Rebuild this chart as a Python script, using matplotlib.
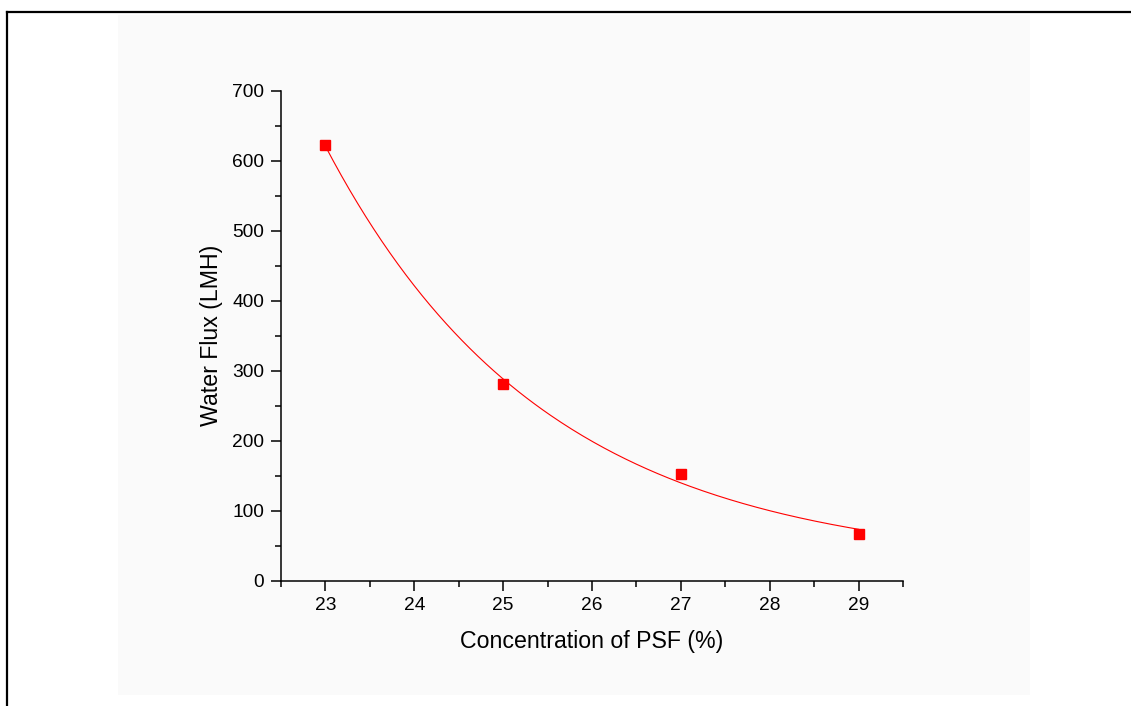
import numpy as np
import matplotlib
matplotlib.use('Agg')
from matplotlib import pyplot as plt
from matplotlib.patches import Rectangle
from matplotlib.lines import Line2D
from matplotlib.ticker import MultipleLocator

# measured data
conc = [23, 25, 27, 29]
flux = [622, 281, 152, 67]

plt.rcParams['font.family'] = ['Liberation Sans', 'DejaVu Sans']

fig = plt.figure(figsize=(11.31, 7.06), dpi=100)

# faint grey page behind the plot and the black frame at left/top
fig.patches.append(Rectangle((118 / 1131, 1 - 695 / 706), (1030 - 118) / 1131, (695 - 15) / 706,
                             transform=fig.transFigure, facecolor='#fafafa', edgecolor='none', zorder=-5))
fig.lines.append(Line2D([7 / 1131, 7 / 1131], [0, 1 - 12 / 706], transform=fig.transFigure,
                        color='black', linewidth=1.6, zorder=-5))
fig.lines.append(Line2D([7 / 1131, 1], [1 - 12 / 706, 1 - 12 / 706], transform=fig.transFigure,
                        color='black', linewidth=1.6, zorder=-5))

ax = fig.add_axes([281 / 1131, 1 - 580.7 / 706, (903 - 281) / 1131, (580.7 - 90.7) / 706])
ax.patch.set_alpha(0)

# least squares fit of y = y0 + A*exp(-(x-23)/t)
x = np.array(conc, dtype=float)
y = np.array(flux, dtype=float)
best = None
for t in np.linspace(0.5, 20, 4000):
    M = np.column_stack([np.ones_like(x), np.exp(-(x - x[0]) / t)])
    coef, *_ = np.linalg.lstsq(M, y, rcond=None)
    err = np.sum((M @ coef - y) ** 2)
    if best is None or err < best[0]:
        best = (err, t, coef)
_, t, (y0, A) = best
xf = np.linspace(conc[0], conc[-1], 200)
ax.plot(xf, y0 + A * np.exp(-(xf - x[0]) / t), color='red', linewidth=0.8)
ax.plot(conc, flux, 's', color='red', markersize=7, linestyle='none')

ax.set_xlim(22.5, 29.5)
ax.set_ylim(0, 700)
ax.xaxis.set_major_locator(MultipleLocator(1))
ax.xaxis.set_minor_locator(MultipleLocator(0.5))
ax.yaxis.set_major_locator(MultipleLocator(100))
ax.yaxis.set_minor_locator(MultipleLocator(50))

for s in ['top', 'right']:
    ax.spines[s].set_visible(False)
for s in ['left', 'bottom']:
    ax.spines[s].set_linewidth(1.1)
ax.tick_params(which='major', direction='out', length=7, width=1.1, labelsize=13.8, pad=5)
ax.tick_params(which='minor', direction='out', length=4, width=1.1)

ax.set_xlabel('Concentration of PSF (%)', fontsize=16.7, labelpad=11)
ax.set_ylabel('Water Flux (LMH)', fontsize=16.7, labelpad=7)

fig.savefig('out.png', dpi=100)
